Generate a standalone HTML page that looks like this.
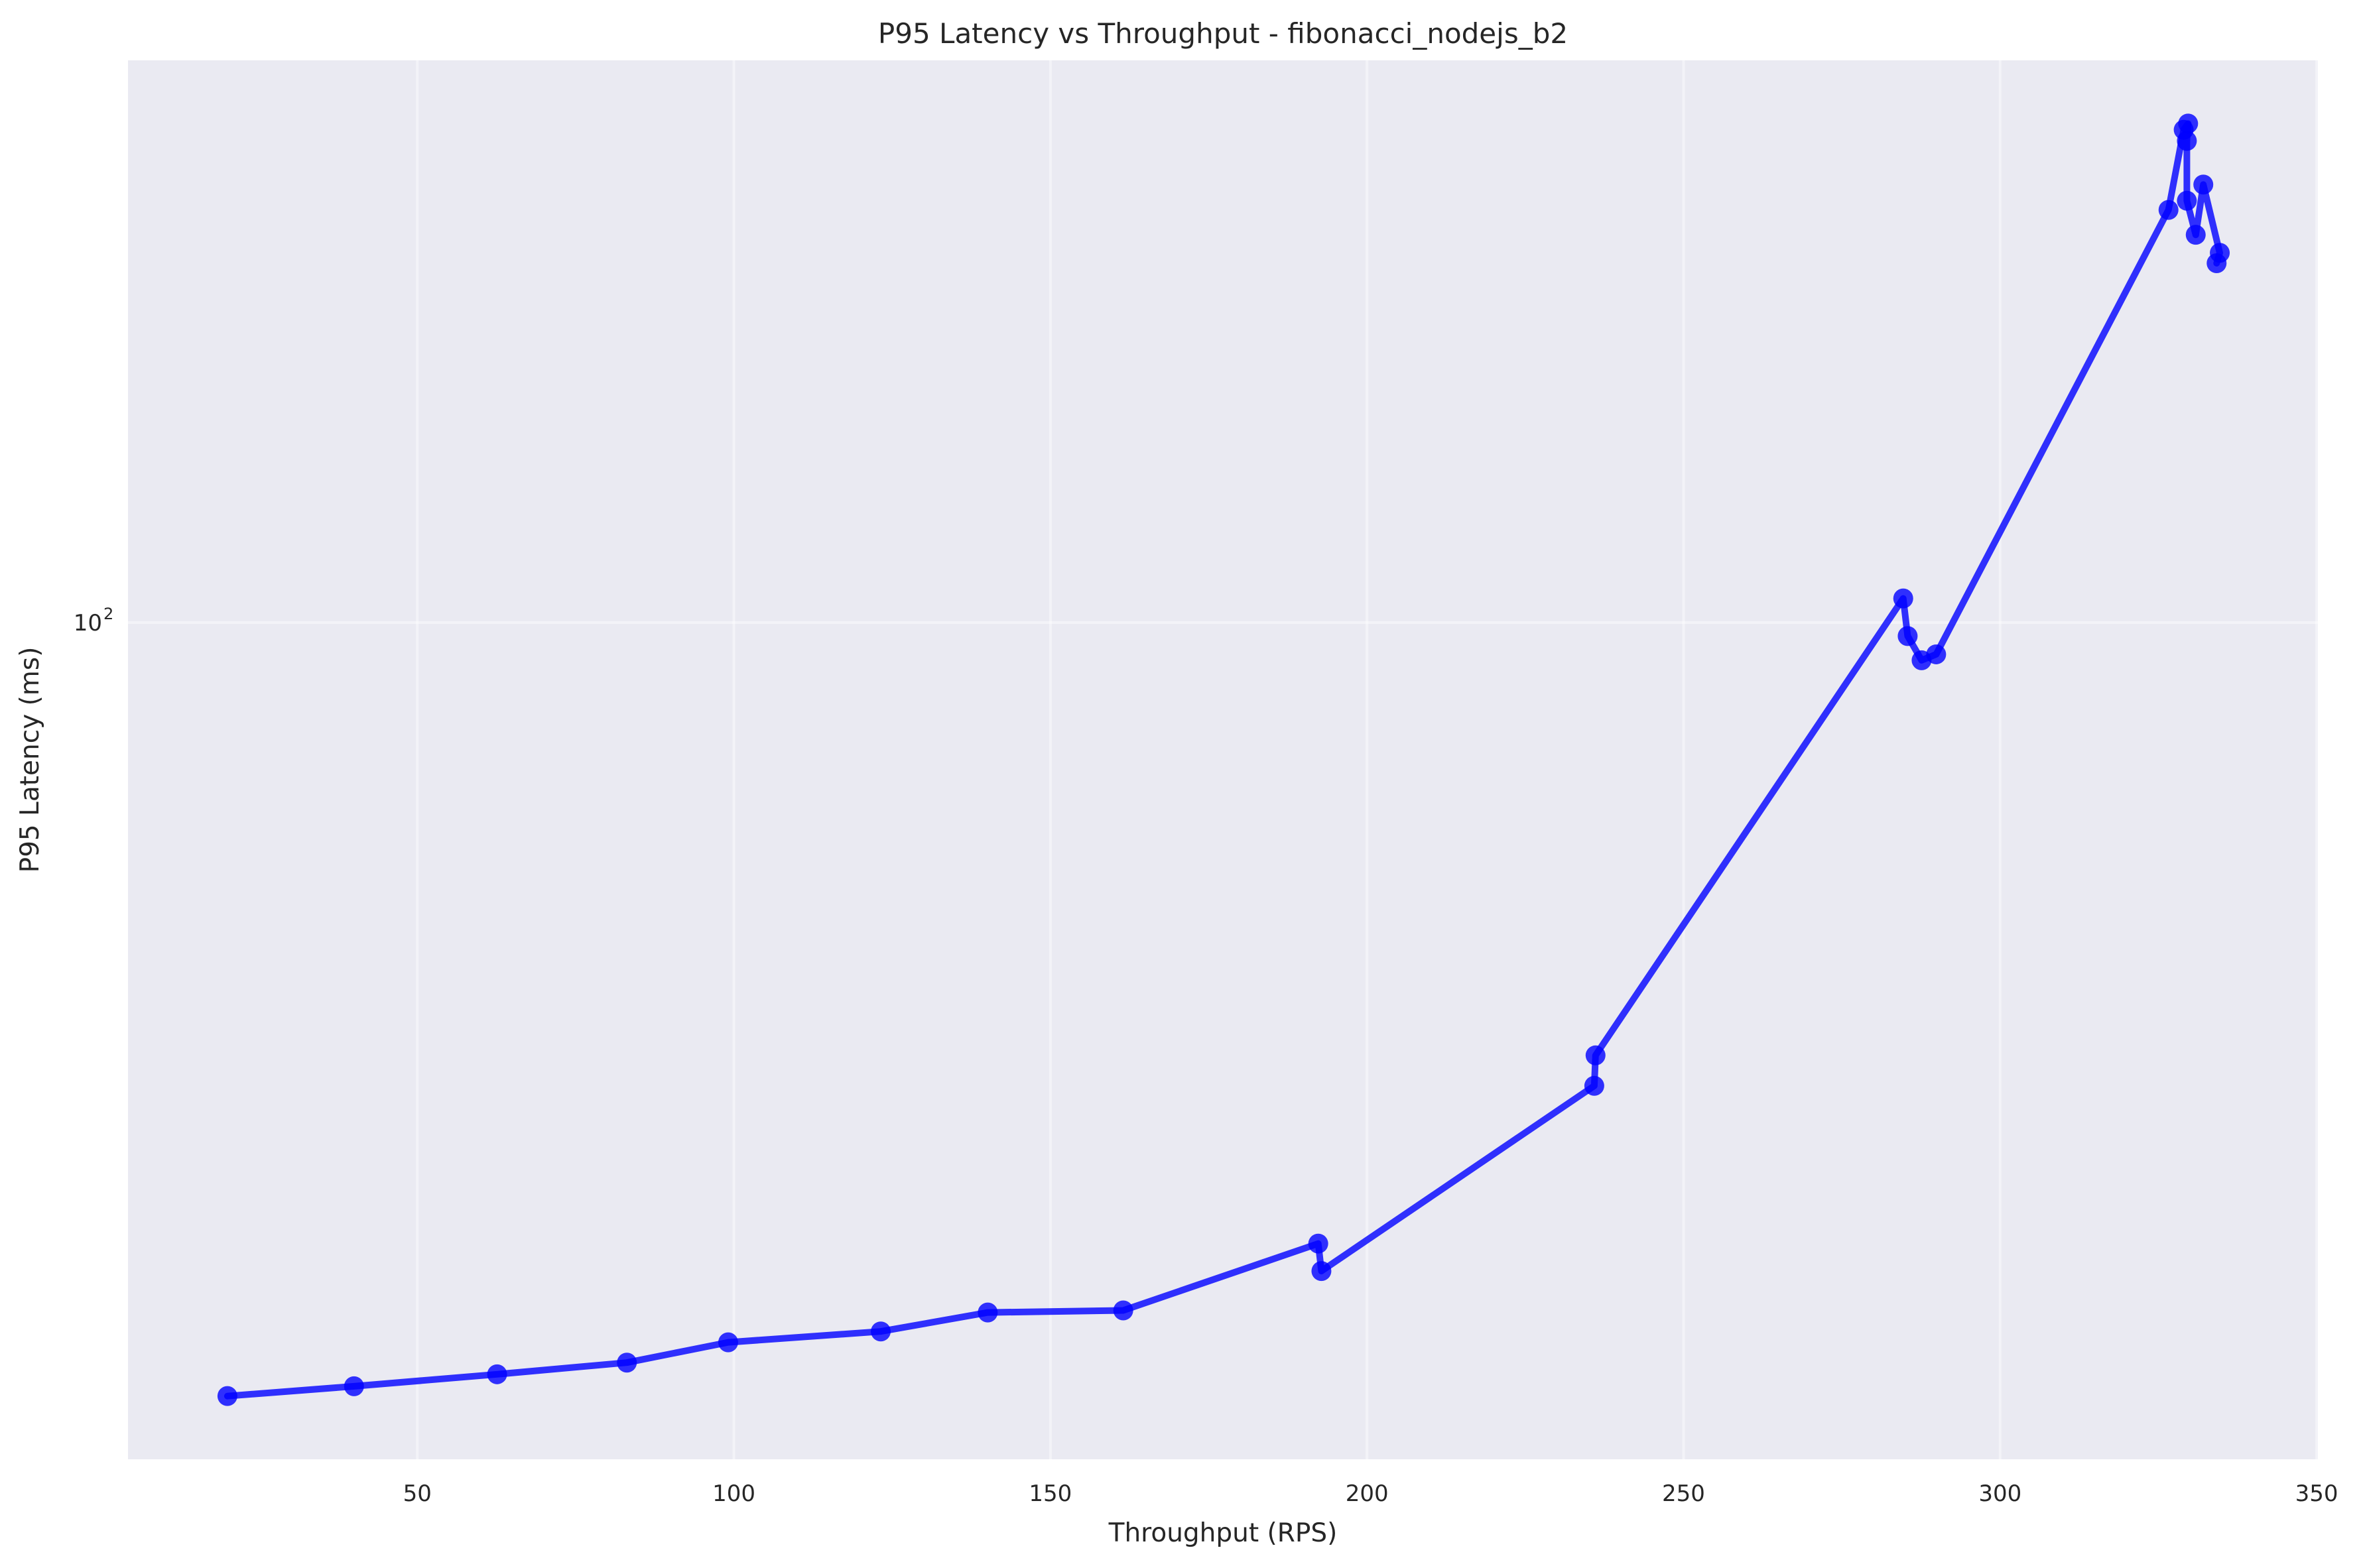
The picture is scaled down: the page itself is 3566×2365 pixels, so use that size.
<!DOCTYPE html>
<html><head><meta charset="utf-8"><style>
html,body{margin:0;padding:0;background:#fff;}
svg{display:block;font-family:"DejaVu Sans","Liberation Sans",sans-serif;}
</style></head><body>
<svg id="chart" width="3566" height="2365" viewBox="0 0 3566 2365" xmlns="http://www.w3.org/2000/svg">
<rect x="193" y="91" width="3302" height="2110" fill="#eaeaf2"/>
<g id="grid"></g>
<g id="xticks"></g>
<g id="yticks"></g>
<g id="series"></g>
<text x="1844" y="65" font-size="42" text-anchor="middle" fill="#262626">P95 Latency vs Throughput - fibonacci_nodejs_b2</text>
<text x="1844" y="2325" font-size="39" text-anchor="middle" fill="#262626">Throughput (RPS)</text>
<text transform="translate(58,1146) rotate(-90)" font-size="39" text-anchor="middle" fill="#262626">P95 Latency (ms)</text>
</svg>
<script>
const throughput = [20.0,40.0,62.6,83.1,99.1,123.2,140.1,161.5,192.3,192.8,235.9,236.1,284.7,285.4,287.6,289.9,326.6,329.0,329.7,329.5,329.5,330.9,332.1,334.7,334.2];
const latency = [18.5,18.9,19.4,19.9,20.8,21.3,22.2,22.3,25.8,24.3,36.4,38.9,105.4,97.1,92.1,93.3,246,293,297,286,251,233,260,224,219];
const xTicks = [50,100,150,200,250,300,350];
const yTicks = [100];
const yTickLabels = ["10"];

const NS = "http://www.w3.org/2000/svg";
const L = 193, R = 3495, T = 91, B = 2201;
const xMin = 4.3, xMax = 350.2;
function xs(v){ return L + (v - xMin) / (xMax - xMin) * (R - L); }
function ys(v){ return 939 - Math.log10(v / 100) * 1592; }
function mk(tag, attrs, parent){ const e = document.createElementNS(NS, tag); for (const k in attrs) e.setAttribute(k, attrs[k]); parent.appendChild(e); return e; }

const grid = document.getElementById('grid');
const xt = document.getElementById('xticks');
const yt = document.getElementById('yticks');
xTicks.forEach(t => {
  const x = xs(t);
  const g = mk('line', {x1:x, x2:x, y1:T, y2:B, stroke:'#ffffff', 'stroke-opacity':0.45, 'stroke-width':4}, grid);
  
  
  const lb = mk('text', {x:x, y:2264, 'font-size':34, 'text-anchor':'middle', fill:'#262626'}, xt);
  lb.textContent = String(t);
  
  
});
yTicks.forEach((t, i) => {
  const y = ys(t);
  const g = mk('line', {x1:L, x2:R, y1:y, y2:y, stroke:'#ffffff', 'stroke-opacity':0.45, 'stroke-width':4}, grid);
  
  
  const lb = mk('text', {x:154, y:y + 12, 'font-size':34, 'text-anchor':'end', fill:'#262626'}, yt);
  lb.textContent = yTickLabels[i];
  
  
  const sp = mk('text', {x:156, y:y - 5, 'font-size':24, 'text-anchor':'start', fill:'#262626'}, yt);
  sp.textContent = "2";
  
  
});

const s = document.getElementById('series');
const pts = throughput.map((v, i) => xs(v).toFixed(1) + ',' + ys(latency[i]).toFixed(1)).join(' ');
const pl = mk('polyline', {points:pts, fill:'none', stroke:'#0000ff', 'stroke-opacity':0.8, 'stroke-width':10, 'stroke-linejoin':'round', 'stroke-linecap':'round'}, s);


throughput.forEach((v, i) => {
  const c = mk('circle', {cx:xs(v), cy:ys(latency[i]), r:15, fill:'#0000ff', 'fill-opacity':0.8}, s);
  
  
});
</script>
</body></html>
